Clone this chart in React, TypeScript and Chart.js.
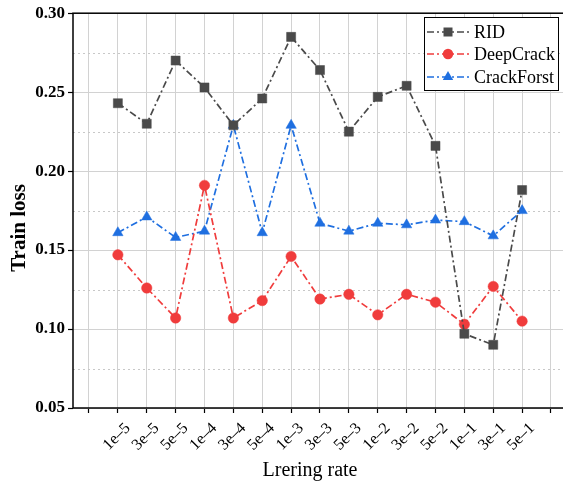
import React, { useEffect, useRef } from 'react';
import { Chart, registerables } from 'chart.js';

Chart.register(...registerables);

const rateLabels = ['', '1e–5', '3e–5', '5e–5', '1e–4', '3e–4', '5e–4', '1e–3', '3e–3', '5e–3', '1e–2', '3e–2', '5e–2', '1e–1', '3e–1', '5e–1', ''];
const ridLoss = [0.243, 0.230, 0.270, 0.253, 0.229, 0.246, 0.285, 0.264, 0.225, 0.247, 0.254, 0.216, 0.097, 0.090, 0.188];
const deepCrackLoss = [0.147, 0.126, 0.107, 0.191, 0.107, 0.118, 0.146, 0.119, 0.122, 0.109, 0.122, 0.117, 0.103, 0.127, 0.105];
const crackForstLoss = [0.161, 0.171, 0.158, 0.162, 0.229, 0.161, 0.229, 0.167, 0.162, 0.167, 0.166, 0.169, 0.168, 0.159, 0.175];
const yMajorTicks = [0.05, 0.10, 0.15, 0.20, 0.25, 0.30];
const yMinorTicks = [0.075, 0.125, 0.175, 0.225, 0.275];
const seriesNames = ['RID', 'DeepCrack', 'CrackForst'];
const seriesColors = ['#4a4a4a', '#f03c3c', '#1f6fe0'];
const seriesMarkers = ['rect', 'circle', 'triangle'];
const seriesRadii = [6.4, 5.2, 6];

const SERIF = '"Liberation Serif", "Times New Roman", serif';
const DASH = [7, 3, 2, 3];

const toPoints = (vals: number[]) => vals.map((v, i) => ({ x: i + 1, y: v }));

const decorPlugin = {
  id: 'decor',
  beforeDatasetsDraw(chart: any) {
    const { ctx, chartArea: a, scales } = chart;
    const y = scales.y;
    ctx.save();
    ctx.strokeStyle = '#c8c8c8';
    ctx.lineWidth = 1;
    ctx.setLineDash([2, 3]);
    yMinorTicks.forEach((v) => {
      const py = Math.round(y.getPixelForValue(v)) + 0.5;
      ctx.beginPath();
      ctx.moveTo(a.left, py);
      ctx.lineTo(a.right, py);
      ctx.stroke();
    });
    ctx.setLineDash([]);
    ctx.strokeStyle = '#000';
    ctx.lineWidth = 1.5;
    ctx.strokeRect(a.left, a.top, a.right - a.left, a.bottom - a.top);
    ctx.restore();
  },
  afterDraw(chart: any) {
    const { ctx } = chart;
    ctx.save();
    // legend
    const bx = 424, by = 17, bw = 134, bh = 73;
    ctx.fillStyle = '#fff';
    ctx.fillRect(bx, by, bw, bh);
    ctx.strokeStyle = '#000';
    ctx.lineWidth = 1;
    ctx.strokeRect(bx + 0.5, by + 0.5, bw, bh);
    const rows = [32, 54, 77];
    seriesNames.forEach((name, i) => {
      const ry = rows[i];
      ctx.strokeStyle = seriesColors[i];
      ctx.lineWidth = 1.6;
      ctx.setLineDash(DASH);
      ctx.beginPath();
      ctx.moveTo(427, ry);
      ctx.lineTo(470, ry);
      ctx.stroke();
      ctx.setLineDash([]);
      ctx.fillStyle = seriesColors[i];
      ctx.beginPath();
      const mx = 448;
      if (seriesMarkers[i] === 'rect') {
        ctx.rect(mx - 4.5, ry - 4.5, 9, 9);
      } else if (seriesMarkers[i] === 'circle') {
        ctx.arc(mx, ry, 5.2, 0, Math.PI * 2);
      } else {
        ctx.moveTo(mx, ry - 6);
        ctx.lineTo(mx + 5.2, ry + 3);
        ctx.lineTo(mx - 5.2, ry + 3);
        ctx.closePath();
      }
      ctx.fill();
      ctx.fillStyle = '#000';
      ctx.font = `18px ${SERIF}`;
      ctx.textAlign = 'left';
      ctx.textBaseline = 'middle';
      ctx.fillText(name, 474, ry + 1);
    });
    // axis titles
    ctx.fillStyle = '#000';
    ctx.font = `20px ${SERIF}`;
    ctx.textAlign = 'center';
    ctx.textBaseline = 'alphabetic';
    ctx.fillText('Lrering rate', 310, 476);
    ctx.save();
    ctx.translate(20, 228);
    ctx.rotate(-Math.PI / 2);
    ctx.font = `bold 21px ${SERIF}`;
    ctx.textBaseline = 'middle';
    ctx.fillText('Train loss', 0, 0);
    ctx.restore();
    ctx.restore();
  },
};

export default function App() {
  const ref = useRef<HTMLCanvasElement | null>(null);
  useEffect(() => {
    if (!ref.current) return;
    const seriesValues = [ridLoss, deepCrackLoss, crackForstLoss];
    const chart = new Chart(ref.current, {
      type: 'line',
      data: {
        datasets: seriesNames.map((name, i) => ({
          label: name,
          data: toPoints(seriesValues[i]),
          borderColor: seriesColors[i],
          backgroundColor: seriesColors[i],
          pointBackgroundColor: seriesColors[i],
          pointBorderColor: seriesColors[i],
          pointStyle: seriesMarkers[i] as any,
          pointRadius: seriesRadii[i],
          pointBorderWidth: 0.5,
          borderWidth: 1.7,
          borderDash: DASH,
          tension: 0,
          fill: false,
        })),
      },
      options: {
        responsive: false,
        animation: false,
        devicePixelRatio: 1,
        layout: { padding: { top: 12, right: 14, left: 0, bottom: 0 } },
        plugins: { legend: { display: false }, tooltip: { enabled: false } },
        scales: {
          x: {
            type: 'linear',
            min: -0.554,
            max: 16.52,
            afterFit: (s: any) => { s.height = 74; },
            afterBuildTicks: (s: any) => { s.ticks = rateLabels.map((_, i) => ({ value: i })); },
            border: { display: false },
            grid: { color: '#d2d2d2', lineWidth: 1, drawTicks: true, tickLength: 5, tickColor: '#000', tickWidth: 1.2 },
            ticks: {
              autoSkip: false,
              includeBounds: false,
              minRotation: 45,
              maxRotation: 45,
              padding: 6,
              labelOffset: 10,
              color: '#000',
              font: { family: SERIF, size: 16 },
              callback: (v: any) => rateLabels[Math.round(Number(v))] ?? '',
            },
          },
          y: {
            type: 'linear',
            min: 0.05,
            max: 0.30,
            afterFit: (s: any) => { s.width = 73; },
            afterBuildTicks: (s: any) => { s.ticks = yMajorTicks.map((v) => ({ value: v })); },
            border: { display: false },
            grid: { color: '#d2d2d2', lineWidth: 1, drawTicks: true, tickLength: 5, tickColor: '#000', tickWidth: 1.2 },
            ticks: {
              padding: 3,
              color: '#000',
              font: { family: SERIF, size: 17, weight: 'bold' },
              callback: (v: any) => Number(v).toFixed(2),
            },
          },
        },
      },
      plugins: [decorPlugin],
    });
    return () => chart.destroy();
  }, []);
  return (
    <div style={{ position: 'fixed', left: 0, top: 0, width: 580, height: 482, background: '#fff' }}>
      <canvas ref={ref} width={580} height={482} style={{ width: 580, height: 482, display: 'block' }} />
    </div>
  );
}
